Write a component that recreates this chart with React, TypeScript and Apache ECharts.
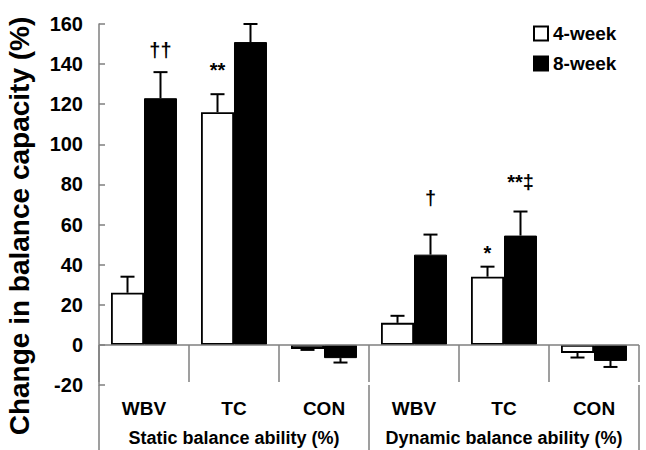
import React, { useEffect, useRef } from "react";
import * as echarts from "echarts";

const categories = ["WBV", "TC", "CON", "WBV", "TC", "CON"];
const groups = ["Static balance ability (%)", "Dynamic balance ability (%)"];
const seriesNames = ["4-week", "8-week"];
const week4 = [26, 116, -2, 11, 34, -4];
const week4Err = [8, 9, 0.5, 3.5, 5, 2.3];
const week8 = [123, 151, -6.6, 45, 54.5, -8];
const week8Err = [13, 9, 2.2, 10, 12, 3];
const week4Marks = ["", "**", "", "", "*", ""];
const week4MarkAt = [0, 137, 0, 0, 46, 0];
const week8Marks = ["††", "", "", "†", "**‡", ""];
const week8MarkAt = [147, 0, 0, 73, 81, 0];
const yTicks = { min: -20, max: 160, interval: 20 };

const FONT = "'Liberation Sans', Arial, sans-serif";
const GRAY = "#7f7f7f";
const CAT_GAP = 0.267;

function makeRender(side: number, vals: number[], errs: number[], marks: string[], markAt: number[]) {
  return (params: any, api: any) => {
    const i = params.dataIndex;
    const v = vals[i];
    const e = errs[i];
    const band = api.size([1, 0])[0];
    const barW = (band * (1 - CAT_GAP)) / 2;
    const base = api.coord([i, v]);
    const x = base[0] + (side * barW) / 2;
    const endV = v >= 0 ? v + e : v - e;
    const end = api.coord([i, endV]);
    const cap = 14;
    const children: any[] = [
      {
        type: "line",
        shape: { x1: x, y1: base[1], x2: x, y2: end[1] },
        style: { stroke: "#000", lineWidth: 2 },
      },
      {
        type: "line",
        shape: { x1: x - cap / 2, y1: end[1], x2: x + cap / 2, y2: end[1] },
        style: { stroke: "#000", lineWidth: 2 },
      },
    ];
    if (marks[i]) {
      const p = api.coord([i, markAt[i]]);
      children.push({
        type: "text",
        x: x,
        y: p[1],
        style: {
          text: marks[i],
          font: `bold 20px ${FONT}`,
          fill: "#000",
          align: "center",
          verticalAlign: "middle",
        },
      });
    }
    return { type: "group", children };
  };
}

export default function App() {
  const ref = useRef<HTMLDivElement>(null);
  useEffect(() => {
    if (!ref.current) return;
    const chart = echarts.init(ref.current, undefined, { renderer: "svg" });
    const idx = categories.map((_, i) => i);
    chart.setOption({
      animation: false,
      backgroundColor: "#fff",
      textStyle: { fontFamily: FONT },
      grid: { left: 99, right: 7, top: 24, bottom: 65, containLabel: false },
      legend: {
        data: seriesNames,
        orient: "vertical",
        left: 533,
        top: 24,
        padding: 0,
        itemWidth: 14,
        itemHeight: 14,
        itemGap: 11,
        icon: "rect",
        textStyle: { fontFamily: FONT, fontWeight: "bold", fontSize: 19, color: "#000", lineHeight: 17 },
      },
      graphic: [
        {
          type: "text",
          x: 19,
          y: 226,
          rotation: Math.PI / 2,
          style: {
            text: "Change in balance capacity (%)",
            font: `bold 28px ${FONT}`,
            fill: "#000",
            align: "center",
            verticalAlign: "middle",
          },
        },
      ],
      xAxis: [
        {
          type: "category",
          data: categories,
          position: "bottom",
          offset: 5,
          axisLine: { show: false },
          axisTick: { show: true, interval: 0, length: 37, alignWithLabel: false, lineStyle: { color: GRAY, width: 1.5 } },
          axisLabel: { interval: 0, margin: 9, fontFamily: FONT, fontWeight: "bold", fontSize: 19, color: "#000" },
          splitLine: { show: false },
        },
        {
          type: "category",
          data: groups,
          position: "bottom",
          offset: 0,
          axisLine: { show: false },
          axisTick: { show: true, interval: 0, length: 66, alignWithLabel: false, lineStyle: { color: GRAY, width: 1.5 } },
          axisLabel: { interval: 0, margin: 44, fontFamily: FONT, fontWeight: "bold", fontSize: 18, color: "#000" },
          splitLine: { show: false },
        },
      ],
      yAxis: {
        type: "value",
        min: yTicks.min,
        max: yTicks.max,
        interval: yTicks.interval,
        axisLine: { show: true, lineStyle: { color: GRAY, width: 1.5 } },
        axisTick: { show: true, inside: true, length: 6, lineStyle: { color: GRAY, width: 1.5 } },
        axisLabel: { margin: 16, fontFamily: FONT, fontWeight: "bold", fontSize: 20, color: "#000" },
        splitLine: { show: false },
      },
      series: [
        {
          name: seriesNames[0],
          type: "bar",
          data: week4,
          barGap: "0%",
          barCategoryGap: `${CAT_GAP * 100}%`,
          itemStyle: { color: "#fff", borderColor: "#000", borderWidth: 1.8 },
          markLine: {
            silent: true,
            symbol: "none",
            label: { show: false },
            lineStyle: { color: GRAY, width: 1.5, type: "solid" },
            data: [{ yAxis: 0 }],
          },
        },
        {
          name: seriesNames[1],
          type: "bar",
          data: week8,
          barGap: "0%",
          barCategoryGap: `${CAT_GAP * 100}%`,
          itemStyle: { color: "#000", borderColor: "#000", borderWidth: 1 },
        },
        {
          type: "custom",
          z: 5,
          data: idx.map((i) => [i, week4[i]]),
          renderItem: makeRender(-1, week4, week4Err, week4Marks, week4MarkAt),
        },
        {
          type: "custom",
          z: 5,
          data: idx.map((i) => [i, week8[i]]),
          renderItem: makeRender(1, week8, week8Err, week8Marks, week8MarkAt),
        },
      ],
    });
    return () => chart.dispose();
  }, []);
  return <div ref={ref} style={{ position: "fixed", left: 0, top: 0, width: 646, height: 450 }} />;
}
